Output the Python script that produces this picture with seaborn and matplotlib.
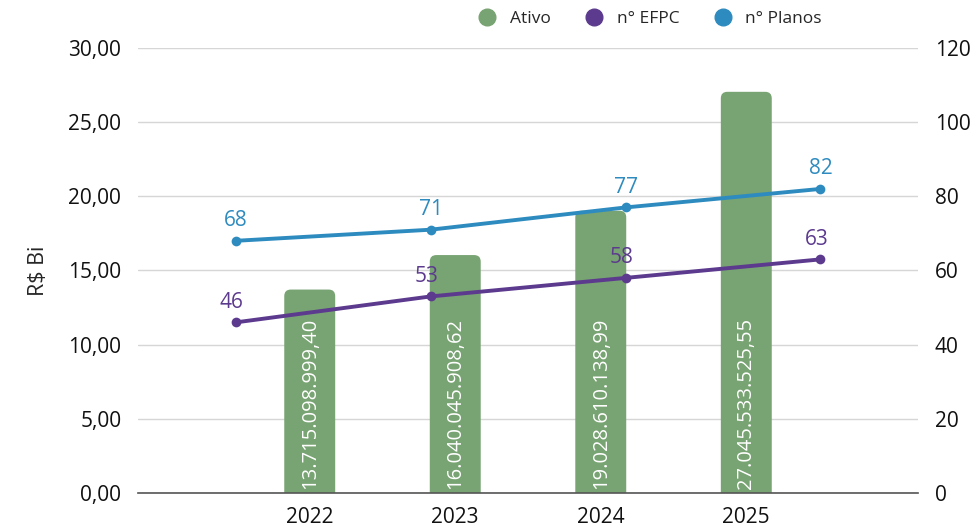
import numpy as np
import pandas as pd
import matplotlib
matplotlib.use("Agg")
import matplotlib.pyplot as plt
import seaborn as sns
from matplotlib.patches import FancyBboxPatch
from matplotlib.lines import Line2D

anos = ["2022", "2023", "2024", "2025"]
ativo_bi = [13.715, 16.040, 19.029, 27.046]
ativo_rotulos = ["13.715.098.999,40", "16.040.045.908,62",
                 "19.028.610.138,99", "27.045.533.525,55"]
n_efpc = [46, 53, 58, 63]
n_planos = [68, 71, 77, 82]
ticks_esq = [0, 5, 10, 15, 20, 25, 30]
ticks_dir = [0, 20, 40, 60, 80, 100, 120]

verde = "#78a372"
roxo = "#5c3a8e"
azul = "#2e8bbf"

sns.set_theme(style="white")
plt.rcParams["font.family"] = ["Open Sans", "DejaVu Sans"]

fig = plt.figure(figsize=(9.74, 5.28), dpi=100)
rect = [0.1417, 0.0663, 0.8008, 0.8428]
ax = fig.add_axes(rect)

df = pd.DataFrame({"ano": anos, "ativo": ativo_bi})
sns.barplot(data=df, x="ano", y="ativo", color=verde, width=0.35,
            saturation=1, ax=ax, zorder=2)

# cantos arredondados no topo
asp = (30 / 445) / (5.36 / 780)
for p in list(ax.patches):
    x0, w, h = p.get_x(), p.get_width(), p.get_height()
    p.remove()
    fb = FancyBboxPatch((x0, -1), w, h + 1,
                        boxstyle="round,pad=0,rounding_size=0.045",
                        mutation_aspect=asp, facecolor=verde,
                        edgecolor="none", zorder=2)
    ax.add_patch(fb)

for i, lab in enumerate(ativo_rotulos):
    ax.text(i, 0.3, lab, rotation=90, ha="center", va="bottom",
            color="white", fontsize=14.5, zorder=3)

ax.set_xlim(-1.18, 4.18)
ax.set_ylim(0, 30)
ax.set_yticks(ticks_esq)
ax.set_yticklabels([f"{v:.2f}".replace(".", ",") for v in ticks_esq])
ax.yaxis.grid(True, color="#d6d6d6", linewidth=1, zorder=0)
ax.set_axisbelow(True)
ax.set_xlabel("")
ax.set_ylabel("R$ Bi", fontsize=15.5, labelpad=14)
ax.tick_params(axis="both", length=0, labelsize=15, colors="#111111")
ax.tick_params(axis="y", pad=12)
ax.tick_params(axis="x", pad=10)
for s in ["top", "right", "left"]:
    ax.spines[s].set_visible(False)
ax.spines["bottom"].set_color("#555555")
ax.spines["bottom"].set_linewidth(1.2)

# linhas em eixo proprio
ax2 = fig.add_axes(rect, facecolor="none")
idx = np.arange(len(anos))
sns.lineplot(x=idx, y=n_planos, color=azul, marker="o", markersize=7,
             markeredgewidth=0, linewidth=2.8, ax=ax2, zorder=4)
sns.lineplot(x=idx, y=n_efpc, color=roxo, marker="o", markersize=7,
             markeredgewidth=0, linewidth=2.8, ax=ax2, zorder=4)
for i in idx:
    ax2.text(i, n_planos[i] + 2.6, str(n_planos[i]), ha="center",
             va="bottom", color=azul, fontsize=15)
    ax2.text(i - 0.02, n_efpc[i] + 2.6, str(n_efpc[i]), ha="center",
             va="bottom", color=roxo, fontsize=15)
ax2.set_xlim(-0.5, 3.5)
ax2.set_ylim(0, 120)
ax2.set_yticks(ticks_dir)
ax2.yaxis.tick_right()
ax2.set_xticks([])
ax2.tick_params(axis="y", length=0, labelsize=15, colors="#111111", pad=12)
for s in ax2.spines.values():
    s.set_visible(False)

handles = [Line2D([], [], marker="o", linestyle="", markersize=12,
                  color=c) for c in (verde, roxo, azul)]
fig.legend(handles, ["Ativo", "n° EFPC", "n° Planos"], loc="center",
           bbox_to_anchor=(0.663, 0.964), ncol=3, frameon=False,
           fontsize=12.5, handletextpad=0.3, columnspacing=1.5)

fig.savefig("out.png", dpi=100)
